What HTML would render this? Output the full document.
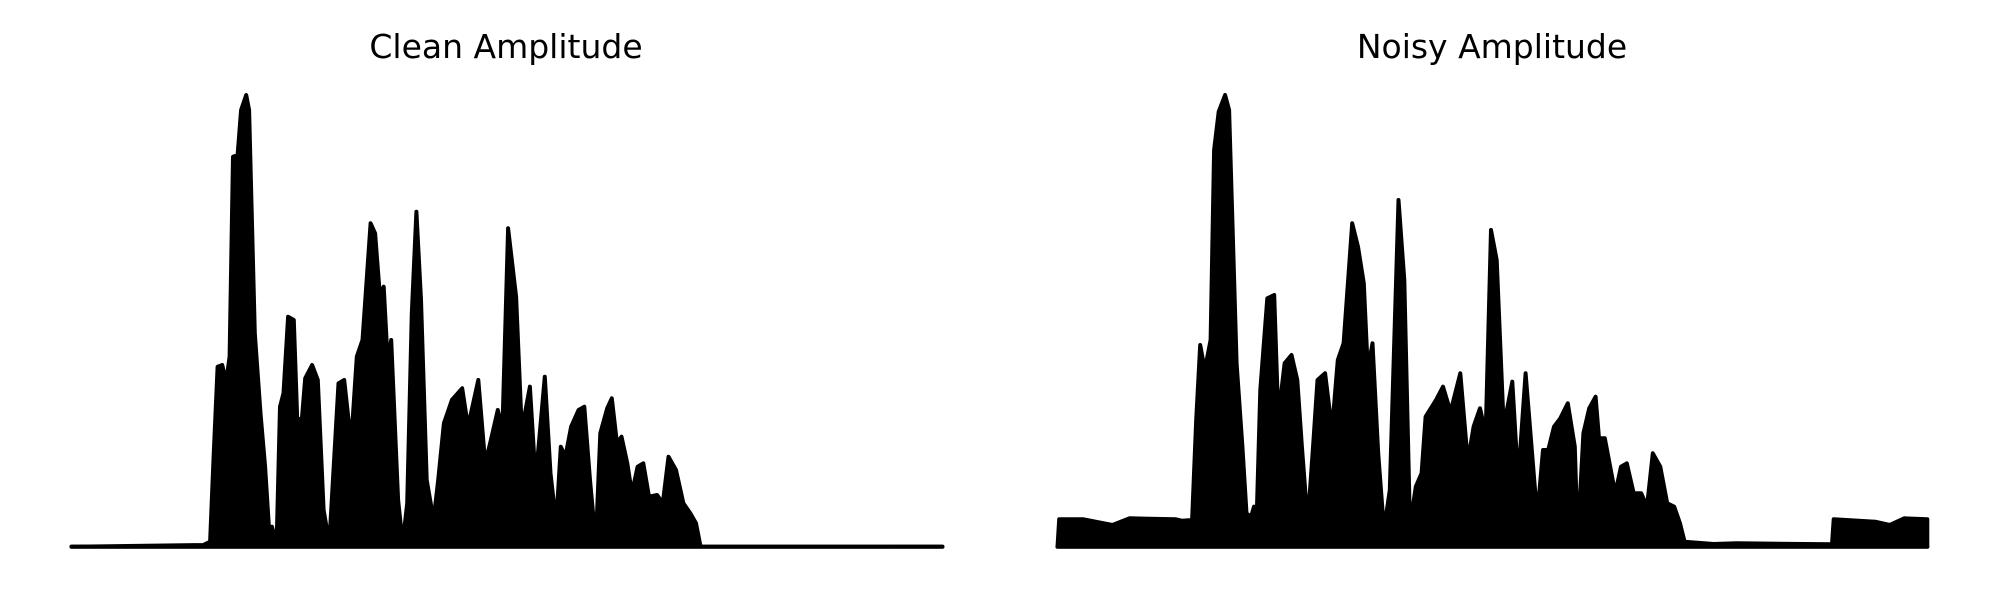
<!DOCTYPE html>
<html><head><meta charset="utf-8"><style>
html,body{margin:0;padding:0;background:#fff;}
svg{display:block;}
</style></head><body>
<svg id="chart" width="2000" height="600" viewBox="0 0 2000 600">
<text x="506" y="58" font-family="DejaVu Sans, sans-serif" font-size="33" text-anchor="middle" fill="#000">Clean Amplitude</text>
<text x="1492" y="58" font-family="DejaVu Sans, sans-serif" font-size="33" text-anchor="middle" fill="#000">Noisy Amplitude</text>
</svg>
<script>
const cleanTime = [20,250,262,268,275,283,290,296,302,310,316,325,330,340,350,358,365,370,378,384,390,398,408,414,422,428,440,450,460,470,478,486,496,508,518,528,542,550,558,565,572,578,590,598,606,614,622,630,640,652,660,670,684,702,712,730,742,752,764,772,782,796,806,820,830,846,856,866,874,882,892,905,915,925,935,943,955,963,972,980,990,998,1008,1018,1028,1042,1052,1062,1075,1088,1100,1110,1118,1540];
const cleanAmp = [0,5,15,270,540,545,495,570,1170,1175,1310,1355,1310,640,400,240,50,60,5,420,460,690,680,385,380,505,545,500,110,10,250,490,500,310,570,620,970,940,760,780,550,620,140,10,130,700,1005,740,200,80,200,370,440,475,360,500,250,320,410,350,955,750,350,480,200,510,220,70,300,270,360,410,420,200,10,340,415,445,310,330,250,160,240,250,150,155,130,270,230,130,100,70,0,0];
const noisyTime = [25,28,70,120,150,230,240,258,265,272,280,290,296,304,315,322,335,345,352,360,365,370,376,388,400,406,412,418,430,440,448,458,468,475,488,500,510,520,535,545,555,562,570,580,590,600,615,625,635,645,655,662,680,692,705,722,735,745,756,766,775,785,797,812,822,835,855,865,874,884,895,908,920,925,935,945,956,962,972,990,1000,1010,1022,1035,1045,1055,1068,1080,1092,1102,1110,1160,1200,1365,1368,1440,1465,1490,1530,1530];
const noisyAmp = [0,82,82,65,85,82,78,80,380,605,530,620,1190,1305,1355,1310,550,300,100,90,120,110,470,745,755,440,460,550,575,500,300,70,320,500,520,350,560,610,970,900,790,530,610,280,50,170,1040,800,60,180,220,390,440,480,405,520,255,360,415,340,950,860,360,495,200,520,90,290,290,360,385,430,300,20,340,415,450,325,325,160,240,250,160,160,120,280,240,130,120,70,15,8,10,7,82,75,65,85,82,0];

const svg = document.getElementById('chart');
const NS = 'http://www.w3.org/2000/svg';
function yScale(a){ return 80 + (1400 - a) / 3; }
function xLeft(t){ return 60 + t * 0.573; }
function xRight(t){ return 1043 + t * 0.578; }

function drawSeries(times, amps, xs, name){
  let pts = [];
  pts.push(xs(times[0]).toFixed(1) + ',' + yScale(0).toFixed(1));
  for (let i = 0; i < times.length; i++) {
    pts.push(xs(times[i]).toFixed(1) + ',' + yScale(amps[i]).toFixed(1));
  }
  pts.push(xs(times[times.length-1]).toFixed(1) + ',' + yScale(0).toFixed(1));
  const poly = document.createElementNS(NS, 'polygon');
  poly.setAttribute('points', pts.join(' '));
  poly.setAttribute('fill', '#000');
  poly.setAttribute('stroke', '#000');
  poly.setAttribute('stroke-width', '4');
  poly.setAttribute('stroke-linejoin', 'round');
  
  
  svg.appendChild(poly);
  const base = document.createElementNS(NS, 'line');
  base.setAttribute('x1', xs(times[0]));
  base.setAttribute('x2', xs(times[times.length-1]));
  base.setAttribute('y1', yScale(0));
  base.setAttribute('y2', yScale(0));
  base.setAttribute('stroke', '#000');
  base.setAttribute('stroke-width', '4');
  base.setAttribute('stroke-linecap', 'round');
  
  
  svg.appendChild(base);
}
drawSeries(cleanTime, cleanAmp, xLeft, 'clean-amplitude-series');
drawSeries(noisyTime, noisyAmp, xRight, 'noisy-amplitude-series');
</script>
</body></html>
